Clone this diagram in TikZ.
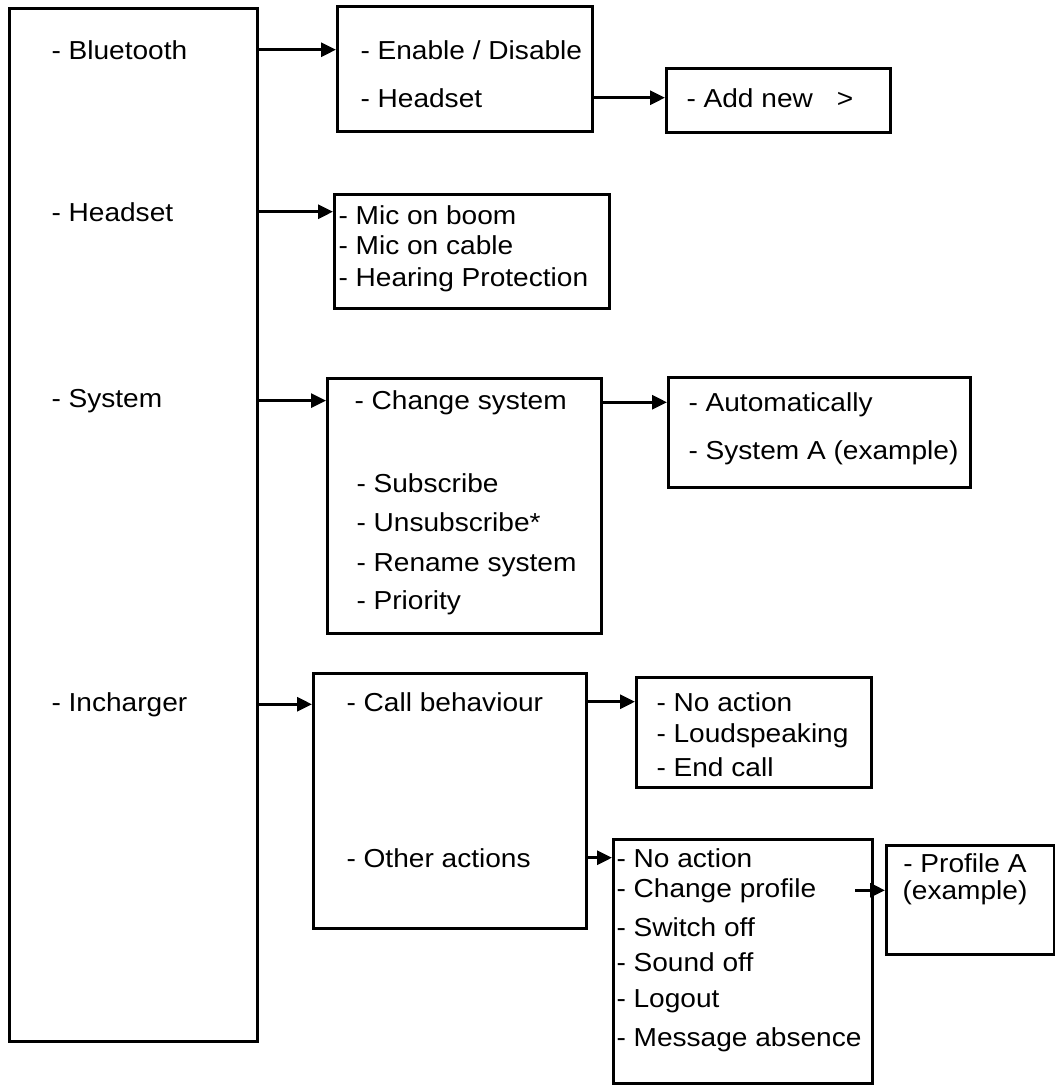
\documentclass[tikz,border=0pt]{standalone}
\usepackage{fontspec}
\setmainfont{Liberation Sans}[FakeStretch=1.08]
\usetikzlibrary{
    arrows.meta
}

\begin{document}
\begin{tikzpicture}[x=1pt,y=-1pt,line width=3pt,
    box/.style={draw,line width=3pt,inner sep=0pt,anchor=north west},
    item/.style={anchor=base west,inner sep=0pt,font=\fontsize{26}{30}\selectfont},
    itemc/.style={anchor=base,inner sep=0pt,font=\fontsize{26}{30}\selectfont},
    arr/.style={-{Triangle[length=15pt,width=14pt]},line width=3pt}]

\useasboundingbox (0,0) rectangle (1055,1085);

% boxes
\node[box,minimum width=248pt,minimum height=1033pt] (menu) at (8,7) {};
\node[box,minimum width=255pt,minimum height=125pt] (bluebox) at (336,5) {};
\node[box,minimum width=224pt,minimum height=64pt] (addbox) at (665,67) {};
\node[box,minimum width=275pt,minimum height=114pt] (headbox) at (333,193) {};
\node[box,minimum width=274pt,minimum height=255pt] (sysbox) at (326,377) {};
\node[box,minimum width=302pt,minimum height=110pt] (autobox) at (667,376) {};
\node[box,minimum width=273pt,minimum height=255pt] (incbox) at (312,672) {};
\node[box,minimum width=235pt,minimum height=110pt] (callbox) at (635,676) {};
\node[box,minimum width=259pt,minimum height=244pt] (otherbox) at (612,838) {};
\node[box,minimum width=168pt,minimum height=109pt] (profbox) at (885,844) {};

% main menu
\node[item] (tblue) at (50,59) {- Bluetooth};
\node[item] (thead) at (50,221) {- Headset};
\node[item] (tsys) at (50,407) {- System};
\node[item] (tinc) at (50,711) {- Incharger};

% bluetooth
\node[item] (tenable) at (359,59) {- Enable / Disable};
\node[item] (tbhead) at (359,107) {- Headset};
\node[item] (tadd) at (685,107) {- Add new\hspace{24pt}>};

% headset
\node[item] (tboom) at (337,224) {- Mic on boom};
\node[item] (tcable) at (337,254) {- Mic on cable};
\node[item] (thear) at (337,286) {- Hearing Protection};

% system
\node[item] (tchange) at (353,409) {- Change system};
\node[item] (tsub) at (355,492) {- Subscribe};
\node[item] (tunsub) at (355,531) {- Unsubscribe*};
\node[item] (trename) at (355,571) {- Rename system};
\node[item] (tprio) at (355,609) {- Priority};
\node[item] (tauto) at (687,411) {- Automatically};
\node[item] (tsysa) at (687,459) {- System A (example)};

% incharger
\node[item] (tcall) at (345,711) {- Call behaviour};
\node[item] (tother) at (345,867) {- Other actions};
\node[item] (tnoact) at (655,711) {- No action};
\node[item] (tloud) at (655,742) {- Loudspeaking};
\node[item] (tend) at (655,776) {- End call};
\node[item] (tnoact2) at (615,867) {- No action};
\node[item] (tprofile) at (615,897) {- Change profile};
\node[item] (tswitch) at (615,936) {- Switch off};
\node[item] (tsound) at (615,971) {- Sound off};
\node[item] (tlogout) at (615,1007) {- Logout};
\node[item] (tmsg) at (615,1046) {- Message absence};
\node[itemc] (tprofa) at (965,872) {- Profile A};
\node[itemc] (tprofex) at (965,899) {(example)};

% arrows
\draw[arr] (menu.east |- tblue) -- (bluebox.west |- tblue);
\draw[arr] (bluebox.east |- tbhead) -- (addbox.west |- tbhead);
\draw[arr] (menu.east |- thead) -- (headbox.west |- thead);
\draw[arr] (menu.east |- tsys) -- (sysbox.west |- tsys);
\draw[arr] (sysbox.east |- tchange) -- (autobox.west |- tchange);
\draw[arr] (menu.east |- tinc) -- (incbox.west |- tinc);
\draw[arr] ([xshift=-3pt]incbox.east |- tcall) -- (callbox.west |- tcall);
\draw[arr] ([xshift=-3pt]incbox.east |- tother) -- (otherbox.west |- tother);
\draw[arr] ([xshift=-19pt]otherbox.east |- tprofile) -- (profbox.west |- tprofile);

\end{tikzpicture}
\end{document}
